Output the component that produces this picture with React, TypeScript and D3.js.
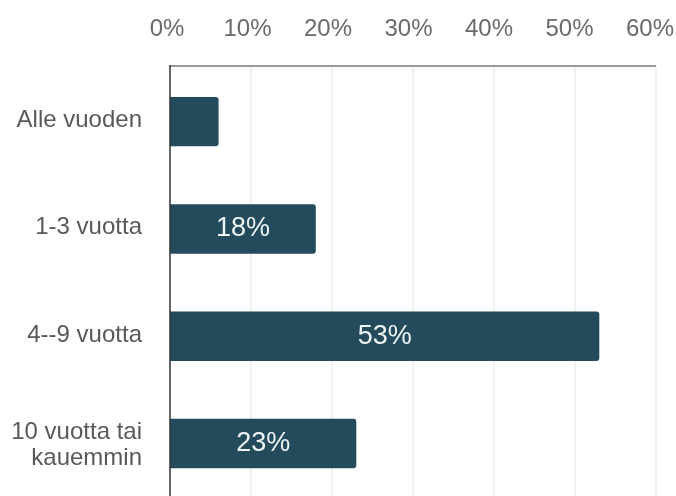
import { useEffect, useRef } from 'react';
import * as d3 from 'd3';

const categories = ['Alle vuoden', '1-3 vuotta', '4--9 vuotta', '10 vuotta tai|kauemmin'];
const values = [6, 18, 53, 23];
const showLabel = [false, true, true, true];
const xTicks = [0, 10, 20, 30, 40, 50, 60];

export default function App() {
	const svgRef = useRef<SVGSVGElement>(null);

	useEffect(() => {
		if (!svgRef.current) return;
		const width = 676;
		const height = 496;
		d3.select(svgRef.current).selectAll('*').remove();

		const margin = { top: 66, left: 170, right: 20 };
		const svg = d3.select(svgRef.current).attr('width', width).attr('height', height);
		const font = '"Liberation Sans", Arial, sans-serif';

		const x = d3.scaleLinear().domain([0, 60]).range([margin.left, 656]);
		// tick labels sit slightly left of their grid lines
		const xLabel = d3.scaleLinear().domain([0, 60]).range([167, 650]);
		const y = d3
			.scaleBand()
			.domain(categories)
			.range([68, 68 + 4 * 107.3])
			.paddingInner(0.54)
			.paddingOuter(0.27);

		// grid lines
		svg
			.append('g')
			.selectAll('line')
			.data(xTicks.slice(1))
			.enter()
			.append('line')
			.attr('x1', (d) => x(d))
			.attr('x2', (d) => x(d))
			.attr('y1', margin.top)
			.attr('y2', height)
			.attr('stroke', '#e2e2e2')
			.attr('stroke-width', 1);

		// top axis line
		svg
			.append('line')
			.attr('x1', x(0))
			.attr('x2', x(60))
			.attr('y1', margin.top)
			.attr('y2', margin.top)
			.attr('stroke', '#9a9a9a')
			.attr('stroke-width', 2);

		// tick labels
		svg
			.append('g')
			.selectAll('text')
			.data(xTicks)
			.enter()
			.append('text')
			.attr('x', (d) => xLabel(d))
			.attr('y', 36)
			.attr('text-anchor', 'middle')
			.style('font-family', font)
			.style('font-size', '24px')
			.style('fill', '#6a6a6a')
			.text((d) => `${d}%`);

		// bars with rounded right corners
		const r = 3;
		svg
			.append('g')
			.selectAll('path')
			.data(values)
			.enter()
			.append('path')
			.attr('d', (d, i) => {
				const x0 = x(0);
				const x1 = x(d);
				const y0 = y(categories[i])!;
				const h = y.bandwidth();
				return `M${x0},${y0}H${x1 - r}Q${x1},${y0} ${x1},${y0 + r}V${y0 + h - r}Q${x1},${y0 + h} ${x1 - r},${y0 + h}H${x0}Z`;
			})
			.attr('fill', '#244b5b');

		// value labels
		svg
			.append('g')
			.selectAll('text')
			.data(values.map((v, i) => ({ v, c: categories[i], show: showLabel[i] })).filter((d) => d.show))
			.enter()
			.append('text')
			.attr('x', (d) => (x(0) + x(d.v)) / 2)
			.attr('y', (d) => y(d.c)! + y.bandwidth() / 2 + 7.5)
			.attr('text-anchor', 'middle')
			.style('font-family', font)
			.style('font-size', '27px')
			.style('fill', '#eef4f4')
			.text((d) => `${d.v}%`);

		// category labels
		const cat = svg
			.append('g')
			.selectAll('text')
			.data(categories)
			.enter()
			.append('text')
			.attr('text-anchor', 'end')
			.style('font-family', font)
			.style('font-size', '24px')
			.style('fill', '#595959');
		cat.each(function (d) {
			const lines = d.split('|');
			const cy = y(d)! + y.bandwidth() / 2;
			const lh = 26;
			const t = d3.select(this);
			lines.forEach((ln, j) => {
				t.append('tspan')
					.attr('x', 142)
					.attr('y', cy + (j - (lines.length - 1) / 2) * lh + (lines.length > 1 ? 8.5 : 5.5))
					.text(ln);
			});
		});

		// left axis line
		svg
			.append('line')
			.attr('x1', x(0))
			.attr('x2', x(0))
			.attr('y1', margin.top - 1)
			.attr('y2', height)
			.attr('stroke', '#333')
			.attr('stroke-width', 1.5);
	}, []);

	return (
		<div style={{ position: 'fixed', left: 0, top: 0, width: 676, height: 496, overflow: 'hidden' }}>
			<svg ref={svgRef} style={{ display: 'block' }}></svg>
		</div>
	);
}
